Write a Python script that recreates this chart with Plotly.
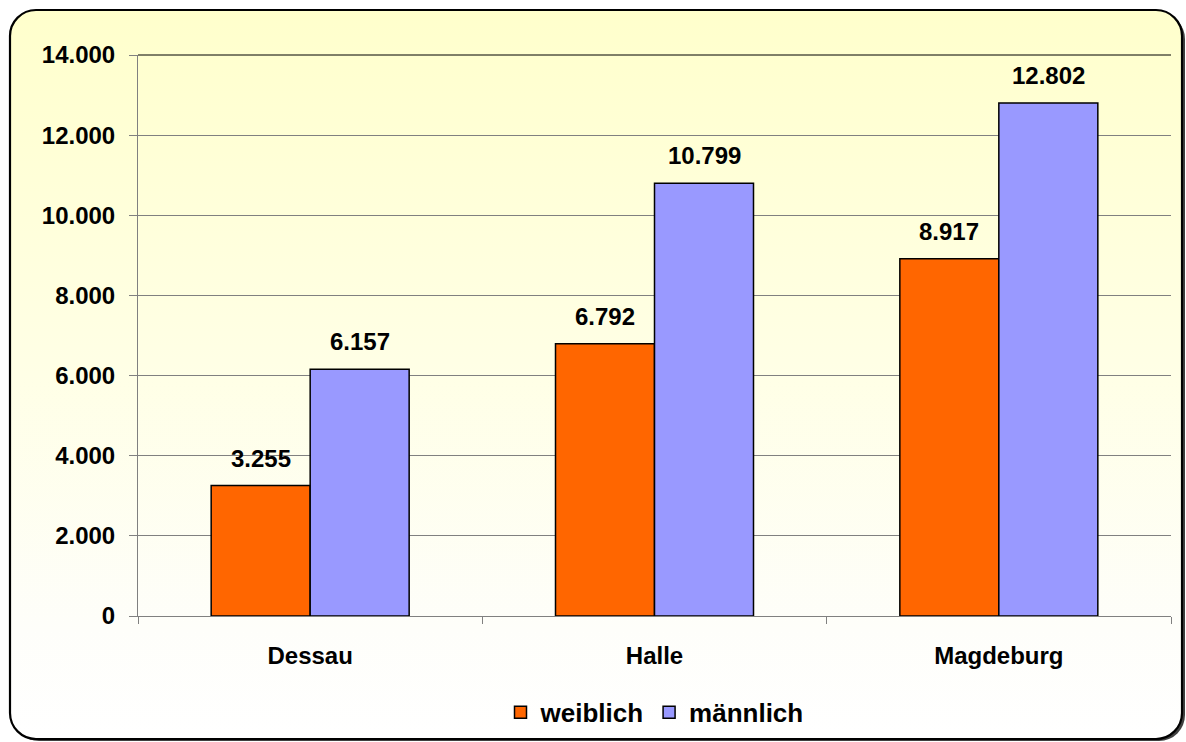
import plotly.graph_objects as go
import base64

categories = ["Dessau", "Halle", "Magdeburg"]
weiblich = [3255, 6792, 8917]
maennlich = [6157, 10799, 12802]
series_names = ["weiblich", "männlich"]
y_ticks = [0, 2000, 4000, 6000, 8000, 10000, 12000, 14000]

W, H = 1186, 742
L, R, T, B = 138, 15, 55, 126
pw, ph = W - L - R, H - T - B

FONT = "Liberation Sans, Arial, sans-serif"

def fnt(size):
    return dict(family=FONT, size=size, color="#000", weight="bold")

svg = f'''<svg xmlns="http://www.w3.org/2000/svg" width="{W}" height="{H}" viewBox="0 0 {W} {H}">
<defs><linearGradient id="g" x1="0" y1="0" x2="0" y2="1">
<stop offset="0" stop-color="#FFFFCC"/><stop offset="0.5" stop-color="#FFFFE6"/><stop offset="0.85" stop-color="#FEFEFA"/><stop offset="1" stop-color="#FFFFFF"/>
</linearGradient></defs>
<rect x="13" y="13" width="1172" height="728" rx="26" ry="26" fill="#404040"/>
<rect x="10" y="10" width="1172" height="729" rx="26" ry="26" fill="url(#g)" stroke="#000" stroke-width="2.2"/>
</svg>'''
src = "data:image/svg+xml;base64," + base64.b64encode(svg.encode()).decode()

fig = go.Figure()
fig.add_trace(go.Bar(x=categories, y=weiblich, name=series_names[0],
                     marker=dict(color="#FF6600", line=dict(color="#000", width=1.5))))
fig.add_trace(go.Bar(x=categories, y=maennlich, name=series_names[1],
                     marker=dict(color="#9999FF", line=dict(color="#000", width=1.5))))

annotations = []
for vals, shift in ((weiblich, -49.5), (maennlich, 49.5)):
    for c, v in zip(categories, vals):
        annotations.append(dict(x=c, y=v, xref="x", yref="y", text=f"{v:,}".replace(",", "."),
                                showarrow=False, yanchor="bottom", xshift=shift, yshift=12,
                                font=fnt(24)))

fig.update_layout(
    width=W, height=H,
    margin=dict(l=L, r=R, t=T, b=B, autoexpand=False),
    paper_bgcolor="white", plot_bgcolor="rgba(0,0,0,0)",
    separators=",.",
    barmode="group", bargap=0.425, bargroupgap=0,
    font=fnt(24),
    showlegend=True,
    legend=dict(orientation="h", x=0.5, xanchor="center", y=-0.13, yanchor="top",
                font=fnt(26), bgcolor="rgba(0,0,0,0)",
                itemwidth=30, tracegroupgap=0),
    images=[dict(source=src, xref="paper", yref="paper", x=-L / pw, y=1 + T / ph,
                 sizex=W / pw, sizey=H / ph, sizing="stretch", xanchor="left", yanchor="top",
                 layer="below")],
    annotations=annotations,
    shapes=[dict(type="line", xref="paper", yref="paper", x0=0, x1=1, y0=1, y1=1,
                 line=dict(color="#000", width=1))],
)
fig.update_xaxes(showline=True, linecolor="#808080", linewidth=1, ticks="outside",
                 tickson="boundaries", ticklen=7, tickcolor="#808080", showgrid=False,
                 tickfont=fnt(24), ticklabelstandoff=18)
fig.update_yaxes(range=[0, 14000], tickvals=y_ticks, tickformat=",d", showline=True,
                 linecolor="#808080", linewidth=1, ticks="outside", ticklen=8, tickcolor="#808080",
                 showgrid=True, gridcolor="#808080", gridwidth=1, zeroline=False,
                 tickfont=fnt(24), ticklabelstandoff=9)

fig.write_html("out.html", config={"displayModeBar": False},
               post_script="document.body.style.margin='0';document.body.style.padding='0';document.body.style.overflow='hidden';")
